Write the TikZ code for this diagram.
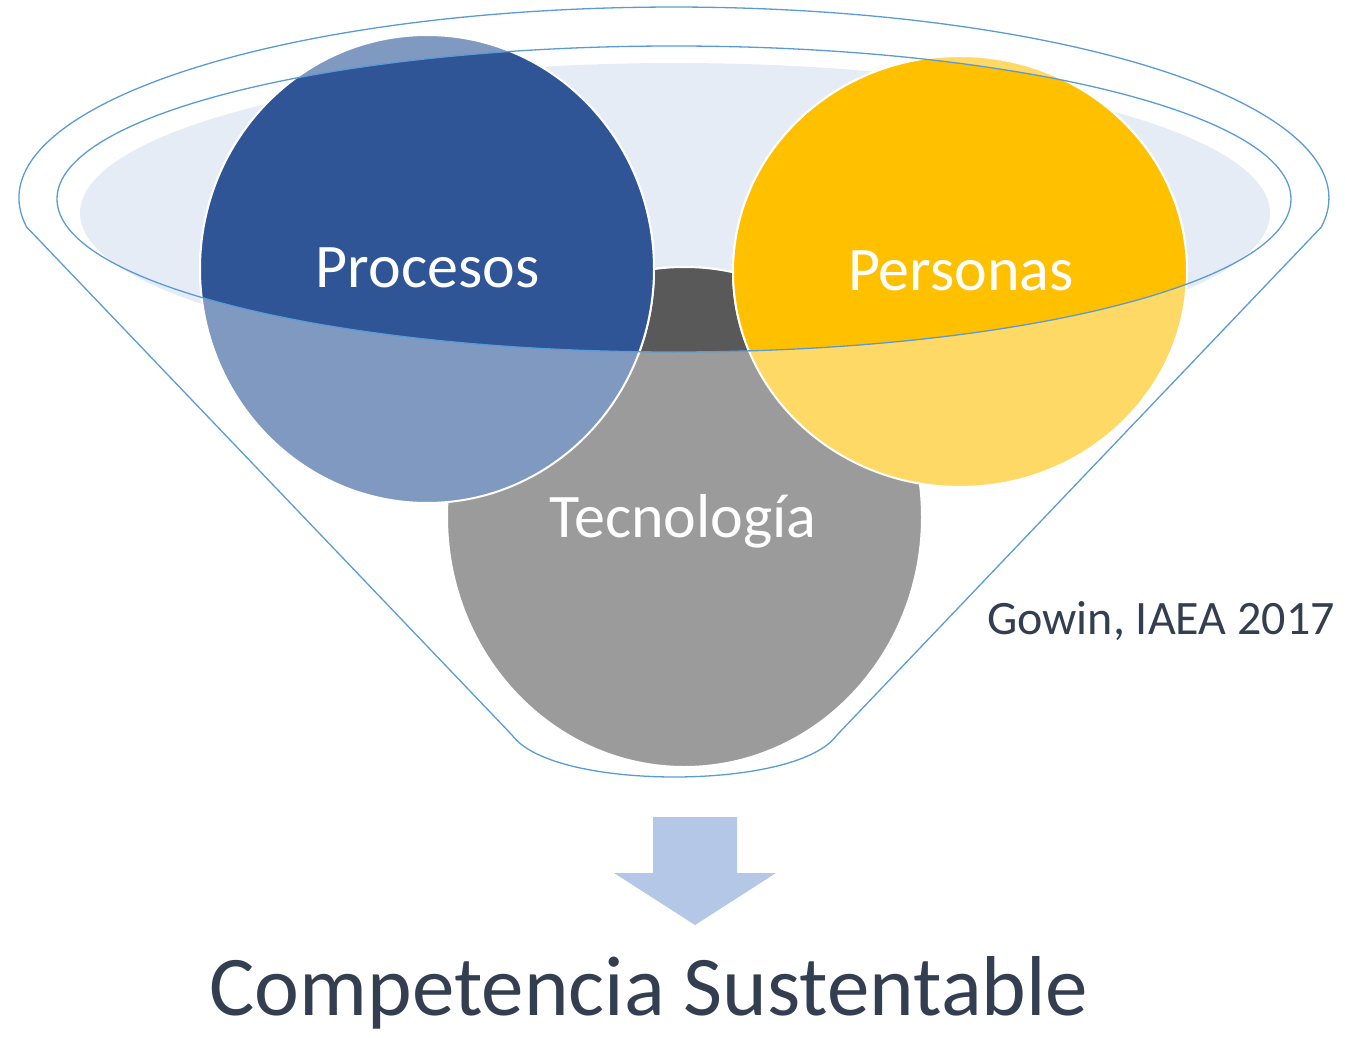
\documentclass[tikz,border=0pt]{standalone}
\usepackage{fontspec}
\setmainfont{Carlito}
\definecolor{funblue}{HTML}{5B9BD5}
\definecolor{fillpale}{HTML}{E6ECF6}
\definecolor{procdark}{HTML}{2F5597}
\definecolor{proclight}{HTML}{8099C1}
\definecolor{persdark}{HTML}{FFC000}
\definecolor{perslight}{HTML}{FFD966}
\definecolor{tecdark}{HTML}{595959}
\definecolor{teclight}{HTML}{9B9B9B}
\definecolor{arrowblue}{HTML}{B4C7E7}
\definecolor{txtdark}{HTML}{333F50}
\begin{document}
\begin{tikzpicture}[x=1pt,y=-1pt,
  circborder/.style={draw=white,line width=2pt},
  funnelline/.style={draw=funblue,line width=1.3pt},
  lbl/.style={text=white,inner sep=0pt,anchor=base,font=\fontsize{62}{70}\selectfont}]
\useasboundingbox (0,0) rectangle (1345,1038);
% pale filling of the funnel mouth
\fill[fillpale] (675,213) ellipse [x radius=595, y radius=150];
% Tecnologia
\fill[teclight,circborder] (684.5,517) ellipse [x radius=237.5, y radius=250];
\begin{scope}
  \clip (674,199) ellipse [x radius=617, y radius=153];
  \fill[tecdark,circborder] (684.5,517) ellipse [x radius=237.5, y radius=250];
\end{scope}
% Procesos
\fill[proclight,circborder] (427,269) ellipse [x radius=227, y radius=234];
\begin{scope}
  \clip (674,199) ellipse [x radius=617, y radius=153];
  \fill[procdark,circborder] (427,269) ellipse [x radius=227, y radius=234];
\end{scope}
% Personas
\fill[perslight,circborder] (960,271.5) ellipse [x radius=227, y radius=215.5];
\begin{scope}
  \clip (674,199) ellipse [x radius=617, y radius=153];
  \fill[persdark,circborder] (960,271.5) ellipse [x radius=227, y radius=215.5];
\end{scope}
% funnel outlines
\draw[funnelline] (674,199) ellipse [x radius=617, y radius=153];
\draw[funnelline,line join=round]
  (26.6,227) arc[start angle=171.27, end angle=368.73, x radius=655, y radius=191]
  -- (837,735) .. controls (815,765) and (740,777) .. (674.5,777)
  .. controls (609,777) and (534,765) .. (512,735) -- cycle;
% labels
\node[lbl] (proc) at (427.5,287) {Procesos};
\node[lbl] (pers) at (961,290) {Personas};
\node[lbl] (tec) at (683,537) {Tecnología};
\node[inner sep=0pt,anchor=base west,text=txtdark,font=\fontsize{48}{52}\selectfont] (src) at (987,634) {Gowin, IAEA 2017};
% arrow
\fill[arrowblue] (653,817) -- (737,817) -- (737,873) -- (776,873) -- (695,925) -- (614,873) -- (653,873) -- cycle;
\node[inner sep=0pt,anchor=base,text=txtdark,font=\fontsize{85}{90}\selectfont] (result) at (649,1015) {Competencia Sustentable};
\end{tikzpicture}
\end{document}
